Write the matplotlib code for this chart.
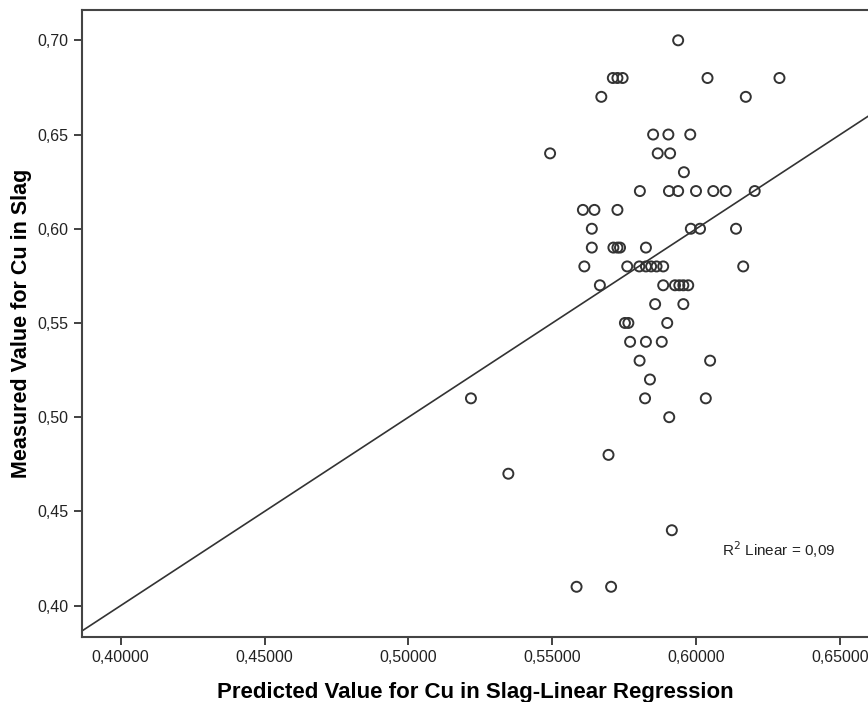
import matplotlib
matplotlib.use("Agg")
import matplotlib.pyplot as plt
from matplotlib.ticker import FuncFormatter

# predicted (x) and measured (y) Cu in slag
predicted = [0.5937, 0.5710, 0.5726, 0.5744, 0.6039, 0.6289, 0.5670, 0.6172,
             0.5850, 0.5903, 0.5979, 0.5492, 0.5866, 0.5909, 0.5957,
             0.5804, 0.5905, 0.5937, 0.5999, 0.6059, 0.6102, 0.6203,
             0.5606, 0.5646, 0.5726,
             0.5637, 0.5981, 0.6013, 0.6138,
             0.5637, 0.5712, 0.5726, 0.5735, 0.5825,
             0.5611, 0.5760, 0.5802, 0.5825, 0.5843, 0.5862, 0.5885, 0.6163,
             0.5665, 0.5885, 0.5926, 0.5941, 0.5955, 0.5972,
             0.5857, 0.5955,
             0.5752, 0.5764, 0.5899,
             0.5770, 0.5825, 0.5880,
             0.5803, 0.6048, 0.5839,
             0.5822, 0.6033, 0.5217, 0.5906,
             0.5695, 0.5347, 0.5915, 0.5584, 0.5704]
measured = [0.70, 0.68, 0.68, 0.68, 0.68, 0.68, 0.67, 0.67,
            0.65, 0.65, 0.65, 0.64, 0.64, 0.64, 0.63,
            0.62, 0.62, 0.62, 0.62, 0.62, 0.62, 0.62,
            0.61, 0.61, 0.61,
            0.60, 0.60, 0.60, 0.60,
            0.59, 0.59, 0.59, 0.59, 0.59,
            0.58, 0.58, 0.58, 0.58, 0.58, 0.58, 0.58, 0.58,
            0.57, 0.57, 0.57, 0.57, 0.57, 0.57,
            0.56, 0.56,
            0.55, 0.55, 0.55,
            0.54, 0.54, 0.54,
            0.53, 0.53, 0.52,
            0.51, 0.51, 0.51, 0.50,
            0.48, 0.47, 0.44, 0.41, 0.41]

fit_slope = 1.0
fit_intercept = 0.0
r2_text = "R$^2$ Linear = 0,09"

x_ticks = [0.40, 0.45, 0.50, 0.55, 0.60, 0.65]
y_ticks = [0.40, 0.45, 0.50, 0.55, 0.60, 0.65, 0.70]

plt.rcParams['font.family'] = ['Liberation Sans', 'DejaVu Sans']
dark = "#333333"

fig = plt.figure(figsize=(8.68, 7.02), dpi=100)
ax = fig.add_axes([0.0941, 0.093, 0.9059, 0.8928])

ax.scatter(predicted, measured, s=52, facecolors="none", edgecolors=dark,
           linewidths=1.4, zorder=3)
ax.axline((0, fit_intercept), slope=fit_slope, color=dark, lw=1.2, zorder=2)

ax.set_xlim(0.38645, 0.65966)
ax.set_ylim(0.3835, 0.7161)
ax.set_xticks(x_ticks)
ax.set_yticks(y_ticks)
ax.xaxis.set_major_formatter(FuncFormatter(lambda v, p: f"{v:.5f}".replace(".", ",")))
ax.yaxis.set_major_formatter(FuncFormatter(lambda v, p: f"{v:.2f}".replace(".", ",")))
ax.tick_params(direction="out", length=6, width=1.3, color=dark,
               labelsize=11.5, labelcolor="#222222")

for side in ["left", "bottom", "top"]:
    ax.spines[side].set_color("#444444")
    ax.spines[side].set_linewidth(1.5)
ax.spines["right"].set_visible(False)

ax.set_xlabel("Predicted Value for Cu in Slag-Linear Regression",
              fontsize=16, fontweight="bold", labelpad=12)
ax.set_ylabel("Measured Value for Cu in Slag", fontsize=15.5, fontweight="bold",
              labelpad=4)

ax.text(0.6089, 0.4295, r2_text, fontsize=11, va="center", ha="left",
        color="#222222")

fig.savefig("out.png", dpi=100)
